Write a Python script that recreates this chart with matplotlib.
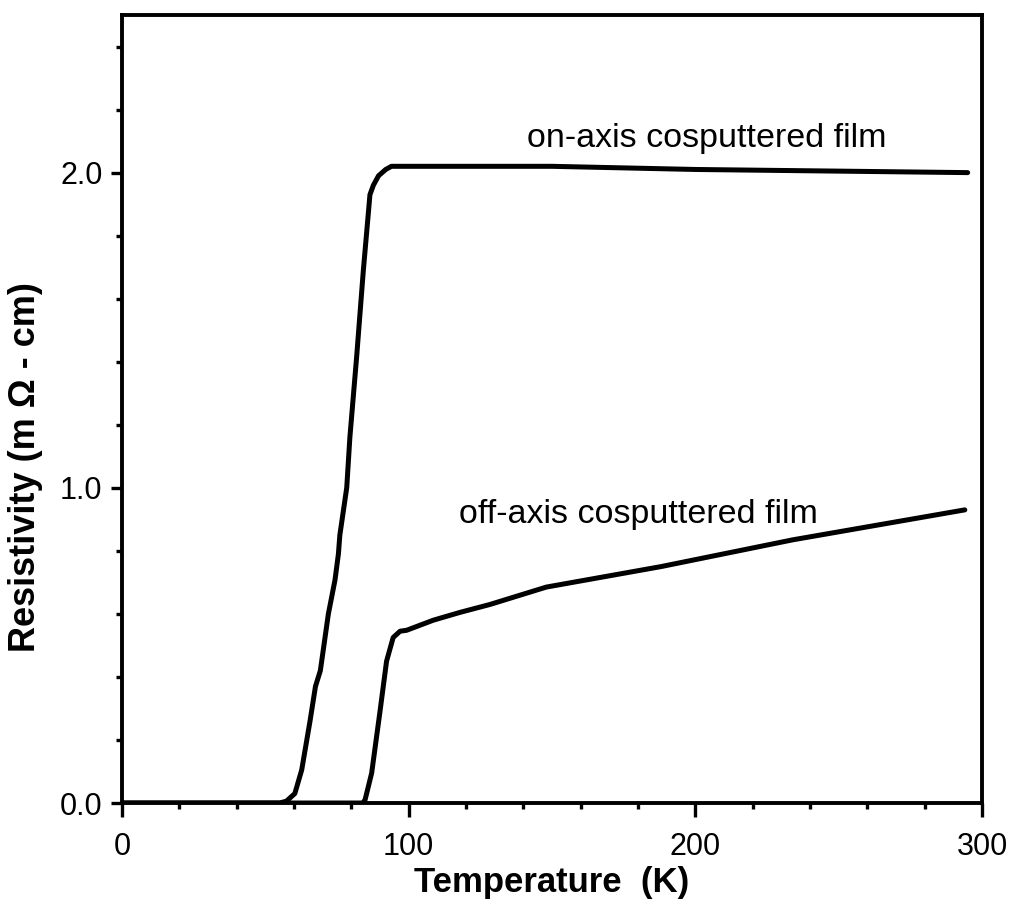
import matplotlib
matplotlib.use("Agg")
import matplotlib.pyplot as plt
from matplotlib.ticker import MultipleLocator

plt.rcParams['font.family'] = ['Liberation Sans', 'DejaVu Sans']

# on-axis cosputtered film: temperature (K), resistivity (mOhm-cm)
on_T = [0, 55, 57.4, 60.3, 62.7, 65.6, 67.5, 69.2, 72.0, 74.3, 75.5, 76.0,
        78.4, 79.5, 81.9, 84.2, 86.5, 87.7, 89.5, 92.0, 94.0, 150, 200, 295]
on_rho = [0, 0, 0.006, 0.03, 0.105, 0.26, 0.37, 0.42, 0.60, 0.707, 0.79, 0.85,
          1.00, 1.16, 1.42, 1.69, 1.93, 1.96, 1.99, 2.01, 2.02, 2.02, 2.01, 2.00]

# off-axis cosputtered film
off_T = [0, 84, 84.8, 87.1, 90.0, 92.3, 94.6, 97.0, 99.3, 108.6, 118, 128.4,
         148, 188, 234, 294]
off_rho = [0, 0, 0.01, 0.095, 0.29, 0.45, 0.525, 0.545, 0.548, 0.58, 0.605, 0.63,
           0.685, 0.75, 0.835, 0.93]

x_ticks = [0, 100, 200, 300]
y_ticks = [0.0, 1.0, 2.0]

fig = plt.figure(figsize=(10.13, 9.05), dpi=100)
ax = fig.add_axes([0.1204, 0.1127, 0.849, 0.8707])

ax.plot(on_T, on_rho, color='black', lw=3.6, solid_capstyle='round', solid_joinstyle='round')
ax.plot(off_T, off_rho, color='black', lw=3.6, solid_capstyle='round', solid_joinstyle='round')

ax.text(204, 2.08, 'on-axis cosputtered film', ha='center', va='baseline', fontsize=24.5)
ax.text(180, 0.889, 'off-axis cosputtered film', ha='center', va='baseline', fontsize=24.5)

ax.set_xlim(0, 300)
ax.set_ylim(0, 2.5)
ax.set_xticks(x_ticks)
ax.set_xticklabels([str(t) for t in x_ticks])
ax.set_yticks(y_ticks)
ax.set_yticklabels([f'{t:.1f}' for t in y_ticks])
ax.xaxis.set_minor_locator(MultipleLocator(20))
ax.yaxis.set_minor_locator(MultipleLocator(0.2))

for s in ax.spines.values():
    s.set_linewidth(2.8)
ax.tick_params(which='major', direction='out', length=8, width=2.4, labelsize=22)
ax.tick_params(which='minor', direction='out', length=4, width=2.4)
ax.tick_params(axis='x', which='major', length=10, pad=11)
ax.tick_params(axis='y', which='major', pad=6)

ax.set_xlabel('Temperature  (K)', fontsize=25, fontweight='bold')
ax.xaxis.set_label_coords(0.5, -0.08)
fig.text(26 / 1013, 1 - 467 / 905, 'Resistivity (m \u03a9 - cm)', rotation=90,
         ha='center', va='center', fontsize=26, fontweight='bold')

fig.savefig('out.png', dpi=100)
